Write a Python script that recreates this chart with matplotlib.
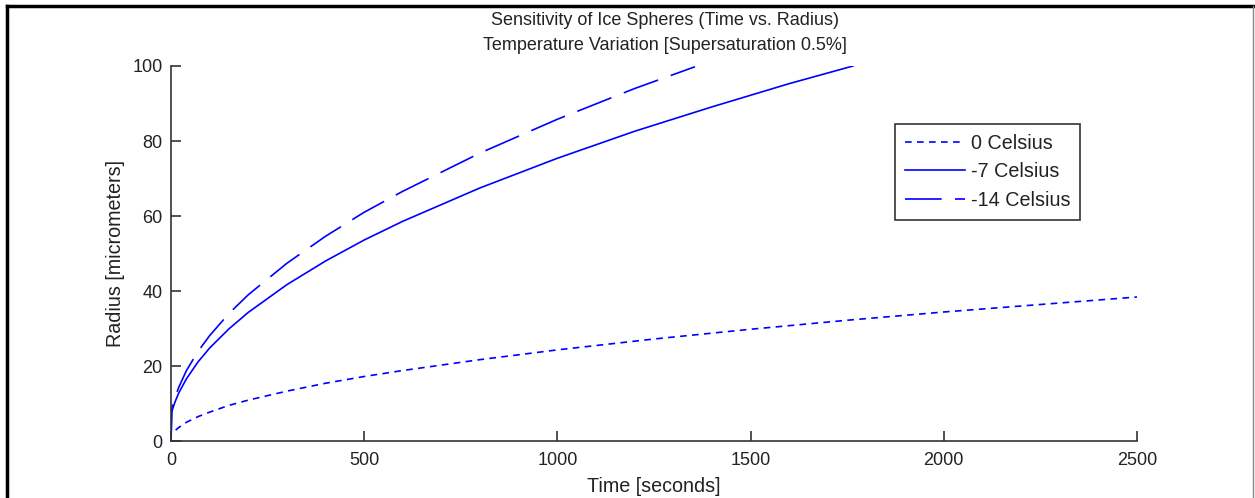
import matplotlib
matplotlib.use('Agg')
import matplotlib.pyplot as plt
from matplotlib.lines import Line2D

plt.rcParams['font.family'] = ['Liberation Sans', 'DejaVu Sans']

## values (time in seconds, radius in micrometers)
t_0c = [12, 20, 40, 70, 100, 150, 200, 300, 400, 500, 600, 800, 1000, 1250, 1500, 1750, 2000, 2250, 2500]
r_0c = [2.9, 3.6, 5.0, 6.5, 7.7, 9.5, 10.9, 13.3, 15.4, 17.2, 18.8, 21.7, 24.3, 27.2, 29.8, 32.2, 34.4, 36.4, 38.4]

t_7c = [0, 2, 5, 10, 20, 40, 70, 100, 150, 200, 300, 400, 500, 600, 800, 1000, 1200, 1400, 1600, 1765]
r_7c = [0, 7.8, 8.8, 10.3, 12.8, 16.6, 21.1, 24.8, 29.9, 34.3, 41.7, 48.0, 53.6, 58.6, 67.5, 75.4, 82.6, 89.1, 95.3, 100.0]

t_14c = [0, 2, 5, 10, 20, 40, 70, 100, 150, 200, 300, 400, 500, 600, 800, 1000, 1200, 1356]
r_14c = [0, 8.6, 9.7, 11.5, 14.3, 18.8, 23.9, 28.1, 34.0, 39.0, 47.4, 54.6, 61.0, 66.6, 76.8, 85.8, 94.0, 99.8]

labels = ['0 Celsius', '-7 Celsius', '-14 Celsius']
x_ticks = [0, 500, 1000, 1500, 2000, 2500]
y_ticks = [0, 20, 40, 60, 80, 100]

W, H = 1255, 498
fig = plt.figure(figsize=(W / 100, H / 100), dpi=100)
ax = fig.add_axes([171 / W, 1 - 441 / H, (1137 - 171) / W, (441 - 66) / H])

ax.plot(t_0c, r_0c, color='blue', lw=1.2, dashes=(4, 3.2), label=labels[0])
ax.plot(t_7c, r_7c, color='blue', lw=1.2, label=labels[1])
ax.plot(t_14c, r_14c, color='blue', lw=1.2, dashes=(22, 8), label=labels[2])

ax.set_xlim(0, 2500)
ax.set_ylim(0, 100)
ax.set_xticks(x_ticks)
ax.set_yticks(y_ticks)
ax.tick_params(direction='in', length=7.5, width=1.2, colors='#333333',
               labelcolor='#222222', labelsize=13, pad=6)
ax.tick_params(axis='x', pad=8)
for s in ['top', 'right']:
    ax.spines[s].set_visible(False)
for s in ['left', 'bottom']:
    ax.spines[s].set_color('#333333')
    ax.spines[s].set_linewidth(1.2)

ax.set_xlabel('Time [seconds]', fontsize=14.2, color='#222222', labelpad=6)
ax.set_ylabel('Radius [micrometers]', fontsize=14.2, color='#222222', labelpad=5)

fig.text(665 / W, 1 - 20 / H, 'Sensitivity of Ice Spheres (Time vs. Radius)',
         ha='center', va='center', fontsize=13, color='#222222')
fig.text(665 / W, 1 - 45 / H, 'Temperature Variation [Supersaturation 0.5%]',
         ha='center', va='center', fontsize=13, color='#222222')

leg = ax.legend(loc='upper left', bbox_to_anchor=(895 / W, 1 - 124 / H),
                bbox_transform=fig.transFigure, borderaxespad=0,
                fontsize=14.2, handlelength=3.05, handletextpad=0.3,
                labelspacing=0.48, borderpad=0.5, fancybox=False,
                framealpha=1)
leg.get_frame().set_edgecolor('#333333')
leg.get_frame().set_linewidth(1.2)
for txt in leg.get_texts():
    txt.set_color('#222222')

## outer border of the screenshot
fig.add_artist(Line2D([7 / W, 1253 / W], [1 - 6 / H, 1 - 6 / H], color='black', lw=2.5))
fig.add_artist(Line2D([7 / W, 7 / W], [0, 1 - 6 / H], color='black', lw=2.5))
fig.add_artist(Line2D([1253 / W, 1253 / W], [0, 1 - 6 / H], color='#888888', lw=1))

fig.savefig('out.png', dpi=100)
